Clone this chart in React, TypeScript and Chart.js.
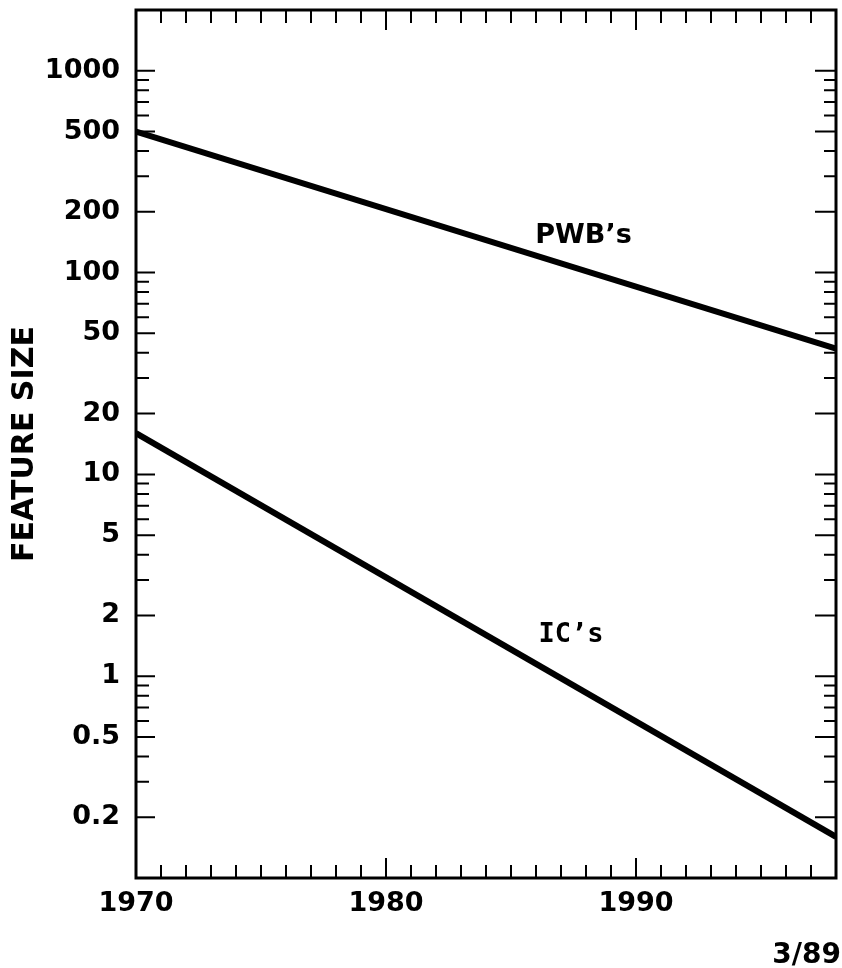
import { useEffect, useRef } from "react";
import { Chart, registerables } from "chart.js";

Chart.register(...registerables);

// data (feature size vs year, log scale)
const years = [1970, 1998];
const pwbSizes = [500, 42];
const icSizes = [16, 0.16];

const xTickLabels = [1970, 1980, 1990];
const yTickLabels = [0.2, 0.5, 1, 2, 5, 10, 20, 50, 100, 200, 500, 1000];

const FONT = "DejaVu Sans";

// frame, inside tick marks, curve labels and the date stamp
const framePlugin = {
  id: "frame",
  afterDatasetsDraw(chart: Chart) {
    const { ctx, chartArea } = chart;
    const { left, right, top, bottom } = chartArea;
    const xs = chart.scales.x;
    const ys = chart.scales.y;
    ctx.save();
    ctx.strokeStyle = "#000";
    ctx.lineCap = "butt";

    // x ticks every year, longer each decade
    ctx.lineWidth = 2;
    for (let yr = 1971; yr < 1998; yr++) {
      const px = xs.getPixelForValue(yr);
      const len = yr % 10 === 0 ? 20 : 13;
      ctx.beginPath();
      ctx.moveTo(px, bottom);
      ctx.lineTo(px, bottom - len);
      ctx.moveTo(px, top);
      ctx.lineTo(px, top + len);
      ctx.stroke();
    }

    // y ticks 1..9 per decade, longer on labelled values
    for (let e = -1; e <= 3; e++) {
      for (let m = 1; m <= 9; m++) {
        const v = m * Math.pow(10, e);
        if (v <= 0.1 || v > 1000) continue;
        const py = ys.getPixelForValue(v);
        const major = m === 1 || m === 2 || m === 5;
        const lenL = major ? 19 : 13;
        const lenR = major ? 21 : 12;
        ctx.beginPath();
        ctx.moveTo(left, py);
        ctx.lineTo(left + lenL, py);
        ctx.moveTo(right, py);
        ctx.lineTo(right - lenR, py);
        ctx.stroke();
      }
    }

    ctx.lineWidth = 3;
    ctx.strokeRect(left, top, right - left, bottom - top);

    ctx.fillStyle = "#000";
    ctx.textAlign = "center";
    ctx.textBaseline = "middle";
    ctx.font = `bold 27px ${FONT}`;
    ctx.fillText("PWB\u2019s", xs.getPixelForValue(1987.9), ys.getPixelForValue(152));
    ctx.font = "bold 27px DejaVu Sans Mono";
    ctx.fillText("IC\u2019s", xs.getPixelForValue(1987.4), ys.getPixelForValue(1.6));

    ctx.font = `bold 28px ${FONT}`;
    ctx.textAlign = "right";
    ctx.fillText("3/89", chart.width - 1, 956);
    ctx.restore();
  },
};

export default function App() {
  const canvasRef = useRef<HTMLCanvasElement | null>(null);
  const chartRef = useRef<Chart | null>(null);

  useEffect(() => {
    document.body.style.margin = "0";
    if (!canvasRef.current) return;
    const ctx = canvasRef.current.getContext("2d");
    if (!ctx) return;

    const tickFont = { family: FONT, size: 27, weight: "bold" as const };

    chartRef.current = new Chart(ctx, {
      type: "line",
      data: {
        datasets: [
          {
            label: "PWB's",
            data: years.map((x, i) => ({ x, y: pwbSizes[i] })),
            borderColor: "#000",
            borderWidth: 6,
            pointRadius: 0,
          },
          {
            label: "IC's",
            data: years.map((x, i) => ({ x, y: icSizes[i] })),
            borderColor: "#000",
            borderWidth: 6,
            pointRadius: 0,
          },
        ],
      },
      options: {
        responsive: true,
        maintainAspectRatio: false,
        animation: false,
        layout: { padding: { top: 10, right: 6, left: 0, bottom: 0 } },
        plugins: {
          legend: { display: false },
          tooltip: { enabled: false },
        },
        scales: {
          x: {
            type: "linear",
            min: 1970,
            max: 1998,
            afterBuildTicks: (s: any) => {
              s.ticks = xTickLabels.map((value) => ({ value }));
            },
            afterFit: (s: any) => {
              s.height = 90;
            },
            grid: { display: false, drawTicks: false },
            border: { display: false },
            ticks: {
              color: "#000",
              font: tickFont,
              padding: 10,
              maxRotation: 0,
              autoSkip: false,
              callback: (v: any) => String(v),
            },
          },
          y: {
            type: "logarithmic",
            min: 0.1,
            max: 2000,
            afterBuildTicks: (s: any) => {
              s.ticks = yTickLabels.map((value) => ({ value }));
            },
            afterFit: (s: any) => {
              s.width = 136;
              s.paddingTop = 0;
              s.paddingBottom = 0;
            },
            grid: { display: false, drawTicks: false },
            border: { display: false },
            title: {
              display: true,
              text: "FEATURE SIZE",
              color: "#000",
              font: { family: FONT, size: 30, weight: "bold" as const },
              padding: { top: 7, bottom: 0 },
            },
            ticks: {
              color: "#000",
              font: tickFont,
              padding: 16,
              autoSkip: false,
              callback: (v: any) => String(v),
            },
          },
        },
      },
      plugins: [framePlugin],
    });

    return () => {
      chartRef.current?.destroy();
      chartRef.current = null;
    };
  }, []);

  return (
    <div style={{ position: "absolute", left: 0, top: 0, width: 842, height: 968, background: "#fff" }}>
      <canvas ref={canvasRef} />
    </div>
  );
}
